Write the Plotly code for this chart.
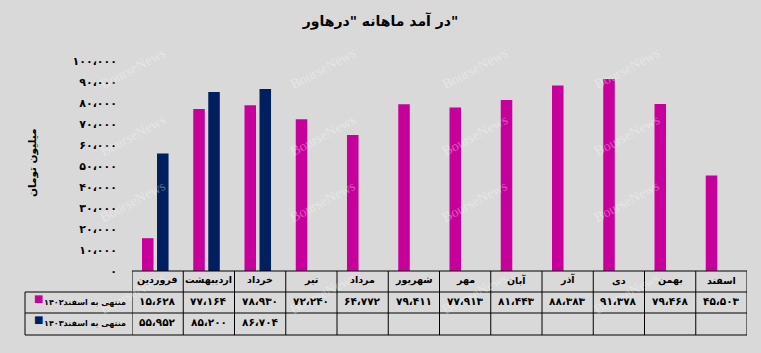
import plotly.graph_objects as go

# ---- data ----
months = ["فروردین", "اردیبهشت", "خرداد", "تیر", "مرداد", "شهریور",
          "مهر", "آبان", "آذر", "دی", "بهمن", "اسفند"]
rev_1402 = [15628, 77164, 78930, 72240, 64772, 79411, 77913, 81443, 88383, 91378, 79468, 45503]
rev_1403 = [55952, 85200, 86704, None, None, None, None, None, None, None, None, None]
series_names = ["منتهی به اسفند۱۴۰۲", "منتهی به اسفند۱۴۰۳"]
y_ticks = [0, 10000, 20000, 30000, 40000, 50000, 60000, 70000, 80000, 90000, 100000]
title_text = "\u200f\"در آمد ماهانه \"درهاور"
y_title = "میلیون تومان"

# ---- style ----
BG = "#d9d9d9"
C1 = "#c8009b"
C2 = "#001f5f"
FONT = "DejaVu Sans"
YS = -6  # vertical nudge for table texts

fa = str.maketrans("0123456789", "۰۱۲۳۴۵۶۷۸۹")


def fa_num(v):
    return f"{v:,}".replace(",", "،").translate(fa)


W, H = 761, 353
L, R, T, B = 132, 14, 61, 82
pw = W - L - R
ph = H - T - B


def px_x(px):
    return (px - L) / pw


def px_y(py):
    return (H - B - py) / ph


fig = go.Figure()
fig.add_trace(go.Bar(x=months, y=rev_1402, name=series_names[0], marker_color=C1,
                     width=0.225, offset=-0.305, marker_line_width=0))
fig.add_trace(go.Bar(x=months, y=rev_1403, name=series_names[1], marker_color=C2,
                     width=0.225, offset=-0.012, marker_line_width=0))

shapes = []
ann = []

# watermarks
for wy in [42, 135, 228, 320]:
    for wx in [95, 285, 475, 665]:
        ann.append(dict(x=px_x(wx), y=px_y(wy), xref="paper", yref="paper",
                        text="BourseNews", showarrow=False, textangle=-28,
                        font=dict(family="Liberation Serif", size=14,
                                  color="rgba(255,255,255,0.35)")))

# table geometry (pixel rows)
row_y = [271, 292, 313, 335]
x_left = px_x(25)
# horizontal lines
shapes.append(dict(type="line", xref="x", yref="paper", x0=-0.5, x1=len(months) - 0.5,
                   y0=px_y(row_y[0]), y1=px_y(row_y[0]), line=dict(color="black", width=1)))
for ry in row_y[1:]:
    shapes.append(dict(type="line", xref="paper", yref="paper", x0=x_left, x1=1,
                       y0=px_y(ry), y1=px_y(ry), line=dict(color="black", width=1)))
# vertical lines
shapes.append(dict(type="line", xref="paper", yref="paper", x0=x_left, x1=x_left,
                   y0=px_y(row_y[1]), y1=px_y(row_y[3]), line=dict(color="black", width=1)))
for i in range(len(months) + 1):
    shapes.append(dict(type="line", xref="x", yref="paper", x0=i - 0.5, x1=i - 0.5,
                       y0=px_y(row_y[0]), y1=px_y(row_y[3]), line=dict(color="black", width=1)))

# header & values
for i, m in enumerate(months):
    ann.append(dict(x=i, y=px_y((row_y[0] + row_y[1]) / 2), xref="x", yref="paper",
                    yshift=YS, text="<b>" + m + "</b>", showarrow=False,
                    font=dict(family=FONT, size=9.5, color="black")))
    ann.append(dict(x=i, y=px_y((row_y[1] + row_y[2]) / 2), xref="x", yref="paper",
                    yshift=YS, text="<b>" + fa_num(rev_1402[i]) + "</b>", showarrow=False,
                    font=dict(family=FONT, size=10.5, color="black")))
    if rev_1403[i] is not None:
        ann.append(dict(x=i, y=px_y((row_y[2] + row_y[3]) / 2), xref="x", yref="paper",
                        yshift=YS, text="<b>" + fa_num(rev_1403[i]) + "</b>", showarrow=False,
                        font=dict(family=FONT, size=10.5, color="black")))

# legend keys in table
for k, (name, col) in enumerate(zip(series_names, [C1, C2])):
    cy = px_y((row_y[k + 1] + row_y[k + 2]) / 2)
    ann.append(dict(x=px_x(32), y=cy, xref="paper", yref="paper", text="■",
                    yshift=-3, showarrow=False, font=dict(family=FONT, size=10, color=col)))
    ann.append(dict(x=px_x(128), y=cy, xref="paper", yref="paper", xanchor="right",
                    yshift=YS, text="<b>" + name + "</b>", showarrow=False,
                    font=dict(family=FONT, size=8, color="black")))

# y-axis title
ann.append(dict(x=px_x(32), y=px_y(163), xref="paper", yref="paper", xanchor="center",
                yanchor="middle", text="<b>" + y_title + "</b>",
                textangle=-90, showarrow=False, font=dict(family=FONT, size=10.5, color="black")))

fig.update_layout(
    width=W, height=H,
    margin=dict(l=L, r=R, t=T, b=B, pad=0),
    paper_bgcolor=BG, plot_bgcolor=BG,
    barmode="overlay",
    showlegend=False,
    title=dict(text="<b>" + title_text + "</b>", x=0.5, xref="container", xanchor="center",
               y=1 - 21 / H, yref="container", yanchor="middle",
               font=dict(family=FONT, size=14, color="black")),
    xaxis=dict(range=[-0.5, len(months) - 0.5], showticklabels=False, showgrid=False,
               zeroline=False, showline=False, ticks=""),
    yaxis=dict(range=[0, 100000], tickvals=y_ticks,
               ticktext=["<b>" + fa_num(v) + "</b>" for v in y_ticks],
               showgrid=False, zeroline=False, showline=False, ticks="",
               ticklabelstandoff=14,
               tickfont=dict(family=FONT, size=11, color="black")),
    shapes=shapes,
    annotations=ann,
)

fig.write_html("out.html")
